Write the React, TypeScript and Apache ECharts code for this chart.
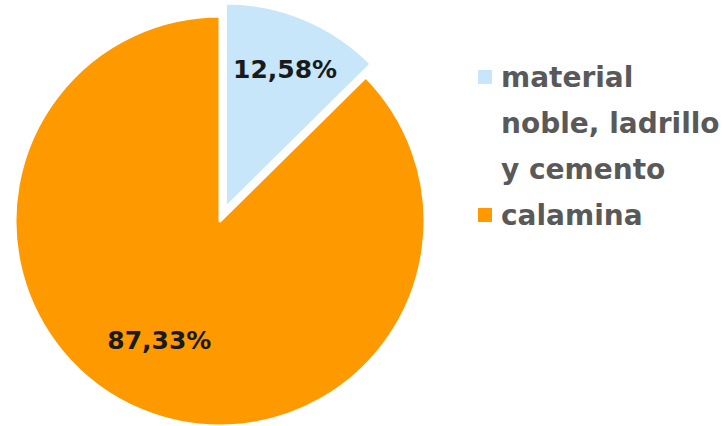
import React, { useEffect, useRef } from "react";
import * as echarts from "echarts";

const categories = ["material noble, ladrillo y cemento", "calamina"];
const values = [12.58, 87.33];
const colors = ["#C7E6FA", "#FF9900"];
const legendLines: Record<string, string[]> = {
  "material noble, ladrillo y cemento": ["material", "noble, ladrillo", "y cemento"],
  calamina: ["calamina"],
};
const labelShift = [
  { dx: 19, dy: -41 },
  { dx: -20, dy: 22 },
];

export default function App() {
  const ref = useRef<HTMLDivElement>(null);
  useEffect(() => {
    if (!ref.current) return;
    const chart = echarts.init(ref.current, undefined, { renderer: "svg" });
    chart.setOption({
      animation: false,
      backgroundColor: "#ffffff",
      legend: {
        orient: "vertical",
        left: 476,
        top: -38,
        padding: 0,
        itemGap: 0,
        itemWidth: 16,
        itemHeight: 16,
        icon: "rect",
        selectedMode: false,
        data: categories,
        formatter: (name: string) => {
          const lines = legendLines[name] || [name];
          const pad = Math.max(0, lines.length - 1);
          return "\n".repeat(pad) + lines.join("\n");
        },
        textStyle: {
          fontFamily: "DejaVu Sans",
          fontWeight: "bold",
          fontSize: 28,
          lineHeight: 46,
          color: "#595959",
          padding: [0, 0, 0, 3],
        },
      },
      series: [
        {
          type: "pie",
          center: [220, 221],
          radius: 205,
          startAngle: 90,
          clockwise: true,
          selectedMode: "single",
          selectedOffset: 14,
          avoidLabelOverlap: false,
          emphasis: { disabled: true },
          itemStyle: { borderColor: "#ffffff", borderWidth: 3 },
          label: {
            show: true,
            position: "inside",
            fontFamily: "DejaVu Sans",
            fontWeight: "bold",
            fontSize: 25,
            color: "#1a1a1a",
            formatter: (p: any) => `${Number(p.value).toFixed(2).replace(".", ",")}%`,
          },
          labelLine: { show: false },
          labelLayout: (p: any) => labelShift[p.dataIndex] || {},
          data: categories.map((name, i) => ({
            name,
            value: values[i],
            selected: i === 0,
            itemStyle: { color: colors[i] },
          })),
        },
      ],
    });
    return () => chart.dispose();
  }, []);
  return (
    <div
      ref={ref}
      style={{ position: "fixed", left: 0, top: 0, width: 725, height: 426 }}
    />
  );
}
